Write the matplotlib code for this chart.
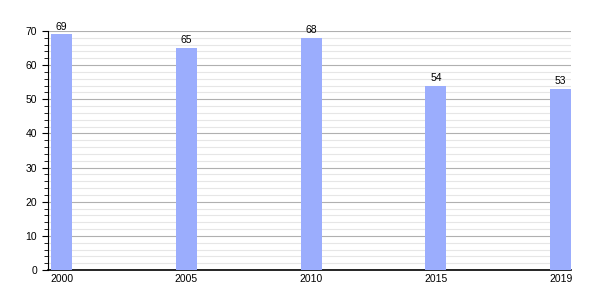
import matplotlib.pyplot as plt
from matplotlib.ticker import MultipleLocator

plt.rcParams['font.family'] = ['Liberation Sans', 'DejaVu Sans']

years = ['2000', '2005', '2010', '2015', '2019']
values = [69, 65, 68, 54, 53]

BAR = '#9badfd'
W = 0.168

fig = plt.figure(figsize=(6.0, 3.0), dpi=100, facecolor='white')
ax = fig.add_axes([0.08, 0.1, 0.872, 0.797])

x = range(len(years))
ax.bar(x, values, width=W, color=BAR, zorder=3)
for i, v in zip(x, values):
    ax.annotate(str(v), (i, v), xytext=(0, 2), textcoords='offset points',
                ha='center', va='bottom', fontsize=7.5, color='black')

ax.set_xlim(-W / 2 - 0.025, len(years) - 1 + W / 2)
ax.set_ylim(0, 70)
ax.set_xticks(list(x))
ax.set_xticklabels(years)
ax.yaxis.set_major_locator(MultipleLocator(10))
ax.yaxis.set_minor_locator(MultipleLocator(2))

ax.grid(axis='y', which='major', color='#b0b0b0', lw=0.8, zorder=1)
ax.grid(axis='y', which='minor', color='#e6e6e6', lw=0.8, zorder=0)

for s in ['top', 'right']:
    ax.spines[s].set_visible(False)
ax.spines['left'].set_color('black')
ax.spines['bottom'].set_color('black')
ax.spines['bottom'].set_linewidth(1.2)

ax.tick_params(axis='x', length=0, labelsize=7.5, pad=3, colors='black')
ax.tick_params(axis='y', which='major', length=4, labelsize=7.5, pad=4, colors='black')
ax.tick_params(axis='y', which='minor', length=3)

fig.savefig('out.png', dpi=100, facecolor='white')
